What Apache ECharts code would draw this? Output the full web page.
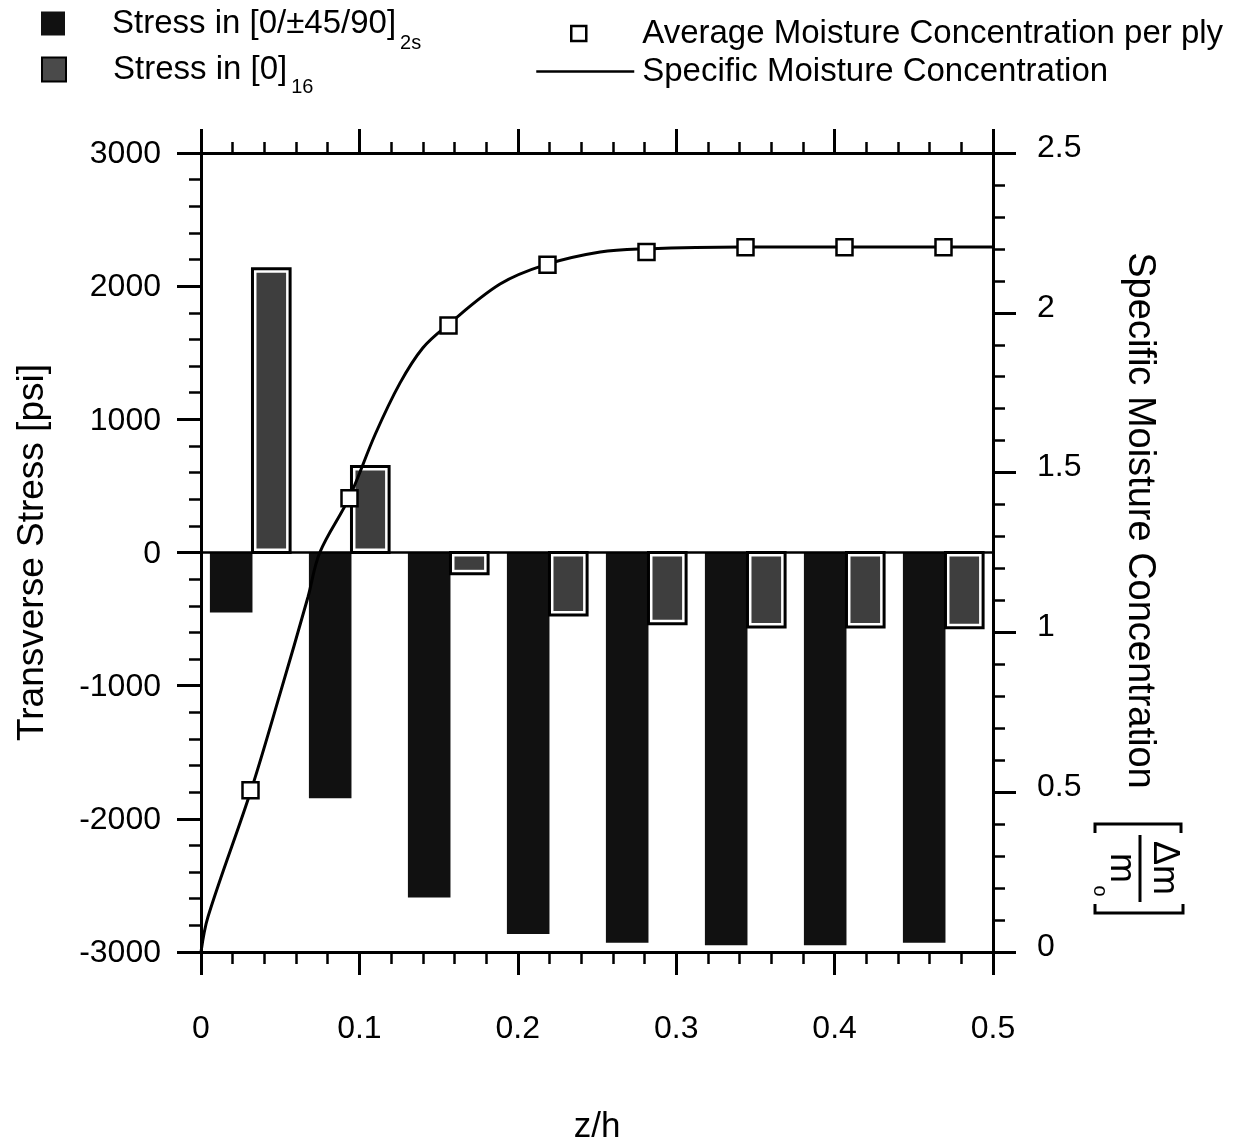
<!DOCTYPE html>
<html><head><meta charset="utf-8">
<script src="https://cdn.jsdelivr.net/npm/echarts@6/dist/echarts.min.js"></script>
<style>html,body{margin:0;padding:0;background:#fff}#c{width:1239px;height:1142px}</style>
</head><body><div id="c"></div>
<script>
// ---- data ----
const plyWidth = 0.0625;
const plyMid = [0.03125, 0.09375, 0.15625, 0.21875, 0.28125, 0.34375, 0.40625, 0.46875];
const stressQuasi = [-450, -1845, -2590, -2865, -2930, -2950, -2950, -2930];   // [0/±45/90]2s
const stressUni = [2130, 645, -160, -470, -535, -560, -560, -565];            // [0]16
const avgMoisture = [0.506, 1.42, 1.96, 2.15, 2.19, 2.205, 2.205, 2.205];
const curveZ = [0, 0.0044, 0.0316, 0.050, 0.0675, 0.075, 0.0934, 0.110, 0.1256, 0.140, 0.1553, 0.1888, 0.2172, 0.252, 0.2803, 0.3415, 0.405, 0.468, 0.5];
const curveM = [0, 0.11, 0.506, 0.81, 1.11, 1.25, 1.42, 1.62, 1.78, 1.89, 1.96, 2.09, 2.15, 2.19, 2.20, 2.206, 2.206, 2.206, 2.206];
const nameQuasi = 'Stress in [0/±45/90]2s';
const nameUni = 'Stress in [0]16';
const nameAvg = 'Average Moisture Concentration per ply';
const nameCurve = 'Specific Moisture Concentration';

const FONT = '"Liberation Sans", Arial, Helvetica, sans-serif';

function darkBar(params, api) {
  const z = api.value(0), v = api.value(1);
  const band = api.size([plyWidth, 0])[0];
  const p0 = api.coord([z, 0]), p1 = api.coord([z, v]);
  const x0 = p0[0] - 0.41 * band, x1 = p0[0] + 0.02 * band;
  return { type: 'rect', shape: { x: x0, y: Math.min(p0[1], p1[1]), width: x1 - x0, height: Math.abs(p1[1] - p0[1]) },
    style: { fill: '#111' } };
}
function lightBar(params, api) {
  const z = api.value(0), v = api.value(1);
  const band = api.size([plyWidth, 0])[0];
  const p0 = api.coord([z, 0]), p1 = api.coord([z, v]);
  const x0 = p0[0] + 0.02 * band, x1 = p0[0] + 0.40 * band;
  const y0 = Math.min(p0[1], p1[1]), h = Math.abs(p1[1] - p0[1]);
  return { type: 'group', children: [
    { type: 'rect', shape: { x: x0, y: y0, width: x1 - x0, height: h }, style: { fill: '#fff', stroke: '#000', lineWidth: 3 } },
    { type: 'rect', shape: { x: x0 + 4, y: y0 + 4, width: x1 - x0 - 8, height: Math.max(h - 8, 1) }, style: { fill: '#3e3e3e' } }
  ] };
}

const axisLineStyle = { color: '#000', width: 3 };
const tickStyle = { color: '#000', width: 3 };
const minorStyle = { color: '#000', width: 2.5 };
const labelBase = { color: '#000', fontSize: 32, fontFamily: FONT };

const chart = echarts.init(document.getElementById('c'), null, { renderer: 'canvas' });
chart.setOption({
  backgroundColor: '#fff',
  animation: false,
  grid: { left: 201, right: 246, top: 153, bottom: 190, containLabel: false, outerBoundsMode: 'none' },
  legend: [
    { data: [{ name: nameQuasi, icon: 'rect', itemStyle: { color: '#111' } }], left: 41, top: 7, padding: 0,
      itemWidth: 24, itemHeight: 24, selectedMode: false,
      formatter: () => '{a|Stress in [0/±45/90]}{s|2s}',
      textStyle: { rich: { a: { fontSize: 33, fontFamily: FONT, color: '#000', padding: [0, 0, 0, 42] },
                           s: { fontSize: 20, fontFamily: FONT, color: '#000', padding: [40, 0, 0, 4] } } } },
    { data: [{ name: nameUni, icon: 'rect', itemStyle: { color: '#4a4a4a', borderColor: '#000', borderWidth: 2 } }], left: 41, top: 53, padding: 0,
      itemWidth: 24, itemHeight: 24, selectedMode: false,
      formatter: () => '{a|Stress in [0]}{s|16}',
      textStyle: { rich: { a: { fontSize: 33, fontFamily: FONT, color: '#000', padding: [0, 0, 0, 42] },
                           s: { fontSize: 20, fontFamily: FONT, color: '#000', padding: [36, 0, 0, 4] } } } },
    { data: [{ name: nameAvg, icon: 'rect', itemStyle: { color: '#fff', borderColor: '#000', borderWidth: 2.5 } }], left: 570, top: 17, padding: 0,
      itemWidth: 15, itemHeight: 15, selectedMode: false,
      formatter: n => '{a|' + n + '}',
      textStyle: { rich: { a: { fontSize: 33, fontFamily: FONT, color: '#000', padding: [0, 0, 0, 51] } } } },
    { data: [{ name: nameCurve, itemStyle: { color: 'rgba(0,0,0,0)', borderColor: 'rgba(0,0,0,0)', borderWidth: 0 },
               lineStyle: { color: '#000', width: 2.5 } }], left: 535, top: 55, padding: 0,
      itemWidth: 98, itemHeight: 14, selectedMode: false,
      formatter: n => '{a|' + n + '}',
      textStyle: { rich: { a: { fontSize: 33, fontFamily: FONT, color: '#000', padding: [0, 0, 0, 3] } } } }
  ],
  xAxis: [
    { type: 'value', position: 'bottom', min: 0, max: 0.5, interval: 0.1,
      axisLine: { onZero: false, lineStyle: axisLineStyle },
      axisTick: { length: 23, lineStyle: tickStyle },
      minorTick: { show: true, splitNumber: 5, length: 12, lineStyle: minorStyle },
      splitLine: { show: false },
      axisLabel: Object.assign({ margin: 61 }, labelBase),
      name: 'z/h', nameLocation: 'middle', nameGap: 158,
      nameTextStyle: { color: '#000', fontSize: 35, fontFamily: FONT } },
    { type: 'value', position: 'top', min: 0, max: 0.5, interval: 0.1,
      axisLine: { onZero: false, lineStyle: axisLineStyle },
      axisTick: { length: 24, lineStyle: tickStyle },
      minorTick: { show: true, splitNumber: 5, length: 11, lineStyle: minorStyle },
      splitLine: { show: false }, axisLabel: { show: false } }
  ],
  yAxis: [
    { type: 'value', position: 'left', min: -3000, max: 3000, interval: 1000,
      axisLine: { onZero: false, lineStyle: axisLineStyle },
      axisTick: { length: 24, lineStyle: tickStyle },
      minorTick: { show: true, splitNumber: 5, length: 12, lineStyle: minorStyle },
      splitLine: { show: false },
      axisLabel: Object.assign({ margin: 40, formatter: v => '{v|' + v + '}',
        rich: { v: { fontSize: 32, fontFamily: FONT, color: '#000', padding: [3, 0, 0, 0] } } }, labelBase),
      name: 'Transverse Stress [psi]', nameLocation: 'middle', nameRotate: 90, nameGap: 150,
      nameTextStyle: { color: '#000', fontSize: 37, fontFamily: FONT } },
    { type: 'value', position: 'right', min: 0, max: 2.5, interval: 0.5,
      axisLine: { onZero: false, lineStyle: axisLineStyle },
      axisTick: { length: 23, lineStyle: tickStyle },
      minorTick: { show: true, splitNumber: 5, length: 12, lineStyle: minorStyle },
      splitLine: { show: false },
      axisLabel: Object.assign({ margin: 44, formatter: v => '{v|' + v + '}',
        rich: { v: { fontSize: 32, fontFamily: FONT, color: '#000', padding: [0, 0, 10, 0] } } }, labelBase),
      name: nameCurve, nameLocation: 'middle', nameRotate: -90, nameGap: 127,
      nameTextStyle: { color: '#000', fontSize: 38, fontFamily: FONT, padding: [0, 64, 0, 0] } }
  ],
  series: [
    { name: nameQuasi, type: 'custom', xAxisIndex: 0, yAxisIndex: 0, renderItem: darkBar,
      itemStyle: { color: '#111' },
      encode: { x: 0, y: 1 }, data: plyMid.map((z, i) => [z, stressQuasi[i]]), z: 2,
      markLine: { silent: true, symbol: 'none', label: { show: false },
        lineStyle: { color: '#000', width: 2.5, type: 'solid' }, data: [{ yAxis: 0 }] } },
    { name: nameUni, type: 'custom', xAxisIndex: 0, yAxisIndex: 0, renderItem: lightBar,
      itemStyle: { color: '#4a4a4a' },
      encode: { x: 0, y: 1 }, data: plyMid.map((z, i) => [z, stressUni[i]]), z: 2 },
    { name: nameCurve, type: 'line', xAxisIndex: 0, yAxisIndex: 1, symbol: 'none', showSymbol: false, smooth: 0.35,
      lineStyle: { color: '#000', width: 3 }, itemStyle: { color: '#000' },
      data: curveZ.map((z, i) => [z, curveM[i]]), z: 4 },
    { name: nameAvg, type: 'scatter', xAxisIndex: 0, yAxisIndex: 1, symbol: 'rect', symbolSize: 16,
      itemStyle: { color: '#fff', borderColor: '#000', borderWidth: 2.5, opacity: 1 },
      data: plyMid.map((z, i) => [z, avgMoisture[i]]), z: 5 }
  ],
  graphic: [
    { type: 'group', x: 1140, y: 868, rotation: -Math.PI / 2, children: [
      { type: 'polyline', shape: { points: [[-35, -41], [-44, -41], [-44, 45], [-35, 45]] }, style: { stroke: '#000', lineWidth: 3, fill: null } },
      { type: 'polyline', shape: { points: [[36, -43], [45, -43], [45, 45], [36, 45]] }, style: { stroke: '#000', lineWidth: 3, fill: null } },
      { type: 'line', shape: { x1: -33, y1: 0, x2: 34, y2: 0 }, style: { stroke: '#000', lineWidth: 3 } },
      { type: 'text', x: 0, y: -24, style: { text: 'Δm', fontSize: 36, fontFamily: FONT, fill: '#000', align: 'center', verticalAlign: 'middle' } },
      { type: 'text', x: 0, y: 19, style: { text: 'm', fontSize: 36, fontFamily: FONT, fill: '#000', align: 'center', verticalAlign: 'middle' } },
      { type: 'text', x: 23, y: 40, style: { text: 'o', fontSize: 20, fontFamily: FONT, fill: '#000', align: 'center', verticalAlign: 'middle' } }
    ] }
  ]
});
</script></body></html>
